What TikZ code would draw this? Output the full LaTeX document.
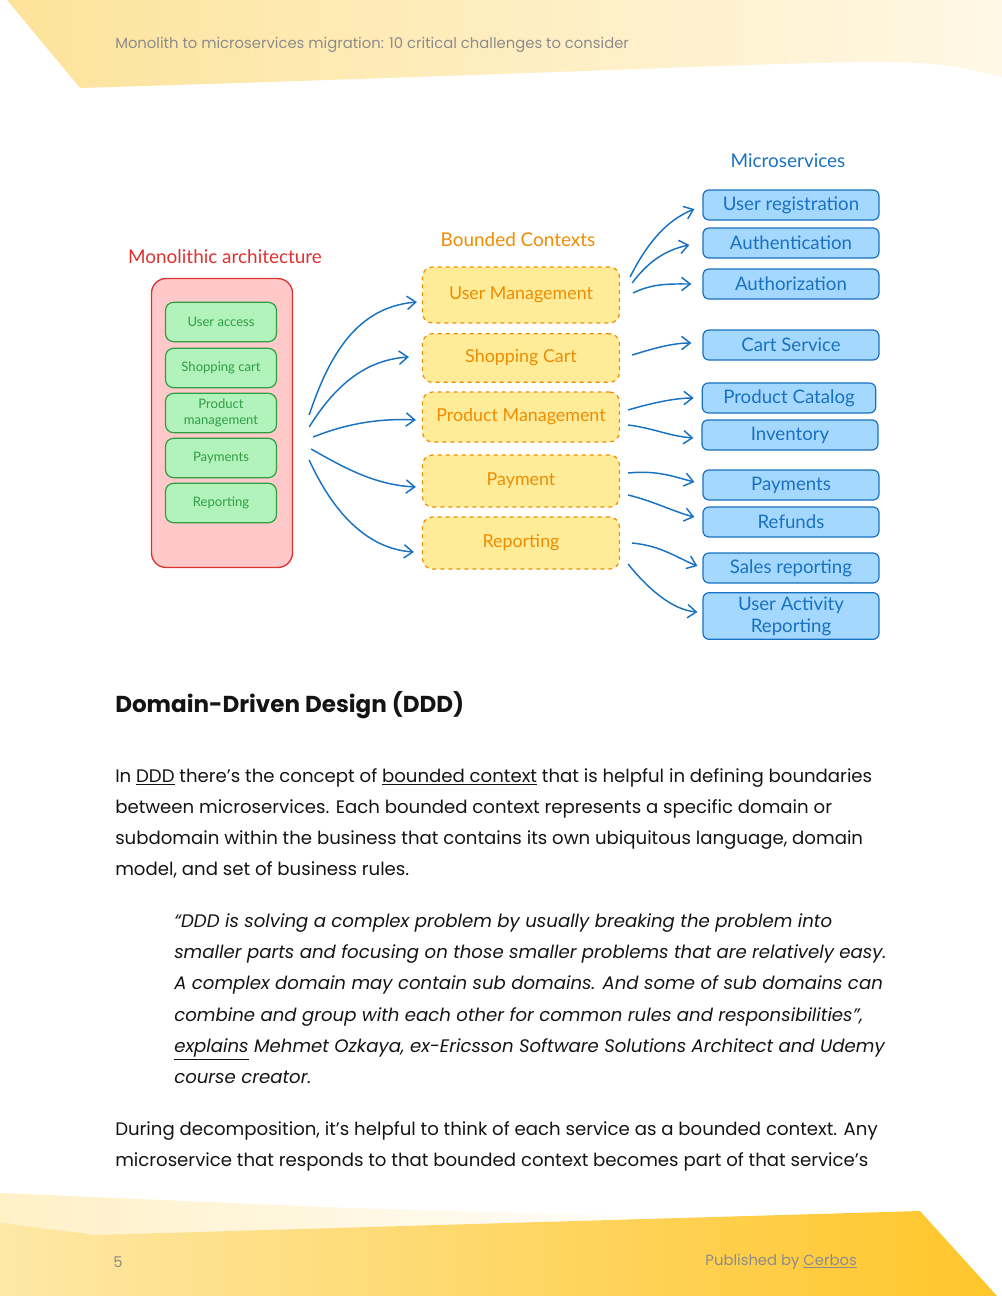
\documentclass[tikz,border=0pt]{standalone}
\usepackage{fontspec}
\setmainfont{Poppins}
\newfontfamily\sketchfont{Lato}
\usetikzlibrary{arrows.meta,positioning}

\definecolor{hdrL}{HTML}{FDE39A}
\definecolor{hdrR}{HTML}{FFF8E6}
\definecolor{ftrPale}{HTML}{FFF0C6}
\definecolor{ftrL}{HTML}{FEE8A6}
\definecolor{ftrR}{HTML}{FFC62A}
\definecolor{pagegrey}{HTML}{8C8C8C}
\definecolor{monoRed}{HTML}{E03131}
\definecolor{monoFill}{HTML}{FFC9C9}
\definecolor{partGreen}{HTML}{2F9E44}
\definecolor{partFill}{HTML}{B2F2BB}
\definecolor{ctxOrange}{HTML}{F08C00}
\definecolor{ctxFill}{HTML}{FFEC99}
\definecolor{svcBlue}{HTML}{1971C2}
\definecolor{svcFill}{HTML}{A5D8FF}
\definecolor{ink}{HTML}{141414}

\begin{document}
\begin{tikzpicture}[x=0.75pt,y=-0.75pt,
  >={Straight Barb[length=6.5pt,width=10pt]},
  pagetext/.style={text=pagegrey,font=\fontsize{11.1}{13}\selectfont,inner sep=0},
  title/.style={font=\sketchfont\fontsize{14.2}{16}\selectfont,inner sep=0},
  mono/.style={draw=monoRed,fill=monoFill,line width=1pt,rounded corners=11pt,
    minimum width=105.75pt,minimum height=216.75pt},
  part/.style={draw=partGreen,fill=partFill,text=partGreen,line width=0.9pt,rounded corners=6pt,
    minimum width=83.25pt,minimum height=29.5pt,inner sep=0,align=center,
    font=\sketchfont\fontsize{9.8}{12}\selectfont},
  ctx/.style={draw=ctxOrange,fill=ctxFill,text=ctxOrange,line width=0.9pt,dashed,rounded corners=7.5pt,
    minimum width=147.75pt,minimum height=39pt,inner sep=0,
    font=\sketchfont\fontsize{13.4}{15}\selectfont},
  svc/.style={draw=svcBlue,fill=svcFill,text=svcBlue,line width=0.9pt,rounded corners=4.5pt,
    minimum width=132pt,minimum height=22.5pt,inner sep=0,align=center,
    font=\sketchfont\fontsize{14}{16.5}\selectfont},
  flow/.style={draw=svcBlue,line width=1.1pt,->},
  bodytext/.style={text=ink,inner sep=0,align=left,font=\fontsize{13.6}{23.25}\selectfont}]

\useasboundingbox (0,0) rectangle (1002,1296);

% page header and footer bands
\shade[left color=hdrL,right color=hdrR] (7,0) -- (1002,0) -- (1002,77)
  .. controls (960,66) and (930,62) .. (880,62)
  .. controls (780,62) and (600,72) .. (80,88) -- cycle;
\shade[left color=ftrPale,right color=white] (0,1193) -- (350,1208) -- (700,1218) -- (700,1296) -- (0,1296) -- cycle;
\shade[left color=ftrL,right color=ftrR] (0,1223) -- (95,1235) -- (920,1211) -- (997,1296) -- (0,1296) -- cycle;

\node[pagetext,anchor=west] (runhead) at (115,45) {Monolith to microservices migration: 10 critical challenges to consider};
\node[pagetext] (pageno) at (118,1262) {5};
\node[pagetext,anchor=east] (publisher) at (857,1262) {Published by \underline{Cerbos}};

% monolith
\node[title,text=monoRed] (monotitle) at (225,257) {Monolithic architecture};
\node[mono] (mono) at (222,423) {};
\node[part] (useraccess) at (221,322) {User access};
\node[part] (cart) at (221,368) {Shopping cart};
\node[part] (product) at (221,413) {Product\\management};
\node[part] (payments) at (221,458) {Payments};
\node[part] (reporting) at (221,503) {Reporting};

% bounded contexts
\node[title,text=ctxOrange] (ctxtitle) at (518,240) {Bounded Contexts};
\node[ctx,minimum height=42pt] (um) at (521,295) {User Management};
\node[ctx,minimum height=36.5pt] (sc) at (521,358) {Shopping Cart};
\node[ctx,minimum height=37.5pt] (pm) at (521,417) {Product Management};
\node[ctx] (pay) at (521,481) {Payment};
\node[ctx] (rep) at (521,543) {Reporting};

% microservices
\node[title,text=svcBlue] (svctitle) at (788,161) {Microservices};
\node[svc] (ureg) at (791,205) {User registration};
\node[svc] (authn) at (791,243) {Authentication};
\node[svc] (authz) at (791,284) {Authorization};
\node[svc] (cartsvc) at (791,345) {Cart Service};
\node[svc,minimum width=130pt] (catalog) at (789,398) {Product Catalog};
\node[svc] (inventory) at (790,435) {Inventory};
\node[svc] (paysvc) at (791,485) {Payments};
\node[svc] (refunds) at (791,522) {Refunds};
\node[svc] (sales) at (791,568) {Sales reporting};
\node[svc,minimum height=35pt] (activity) at (791,616) {User Activity\\Reporting};

% monolith to contexts
\draw[flow] ([shift={(16,-8)}]mono.east) .. controls +(20,-60) and +(-60,5) .. ([shift={(-5,7)}]um.west);
\draw[flow] ([shift={(16,4)}]mono.east) .. controls +(25,-40) and +(-45,3) .. ([shift={(-13,-1)}]sc.west);
\draw[flow] ([shift={(20,14)}]mono.east) .. controls +(30,-12) and +(-40,-2) .. ([shift={(-6,3)}]pm.west);
\draw[flow] ([shift={(18,26)}]mono.east) .. controls +(35,20) and +(-40,-2) .. ([shift={(-6,6)}]pay.west);
\draw[flow] ([shift={(16,37)}]mono.east) .. controls +(25,55) and +(-45,-3) .. ([shift={(-8,9)}]rep.west);

% contexts to services
\draw[flow] ([shift={(10,-18)}]um.east) .. controls +(15,-30) and +(-30,12) .. ([shift={(-8,4)}]ureg.west);
\draw[flow] ([shift={(12,-12)}]um.east) .. controls +(15,-20) and +(-25,5) .. ([shift={(-13,2)}]authn.west);
\draw[flow] ([shift={(13,-2)}]um.east) .. controls +(20,-10) and +(-20,0) .. ([shift={(-11,0)}]authz.west);
\draw[flow] ([shift={(12,-3)}]sc.east) .. controls +(20,-6) and +(-20,0) .. ([shift={(-11,-2)}]cartsvc.west);
\draw[flow] ([shift={(8,-7)}]pm.east) .. controls +(20,-6) and +(-20,0) .. ([shift={(-8,0)}]catalog.west);
\draw[flow] ([shift={(8,8)}]pm.east) .. controls +(25,3) and +(-25,-2) .. ([shift={(-8,3)}]inventory.west);
\draw[flow] ([shift={(8,-8)}]pay.east) .. controls +(30,-3) and +(-20,-5) .. ([shift={(-8,-3)}]paysvc.west);
\draw[flow] ([shift={(8,14)}]pay.east) .. controls +(25,6) and +(-20,-5) .. ([shift={(-8,-5)}]refunds.west);
\draw[flow] ([shift={(12,0)}]rep.east) .. controls +(30,3) and +(-20,-8) .. ([shift={(-5,-2)}]sales.west);
\draw[flow] ([shift={(8,21)}]rep.east) .. controls +(20,25) and +(-25,-2) .. ([shift={(-5,-4)}]activity.west);

% text below the picture
\node[anchor=base west,text=ink,inner sep=0,font=\fontsize{17.3}{21}\selectfont\bfseries] (ddd) at (115,712) {Domain-Driven Design (DDD)};
\node[bodytext,anchor=north west] (intro) at (115,768) {In \underline{DDD} there’s the concept of \underline{bounded context} that is helpful in defining boundaries\\
between microservices. Each bounded context represents a specific domain or\\
subdomain within the business that contains its own ubiquitous language, domain\\
model, and set of business rules.};
\node[bodytext,anchor=north west,font=\fontsize{13.6}{23.5}\selectfont\itshape] (quote) at (174,913) {“DDD is solving a complex problem by usually breaking the problem into\\
smaller parts and focusing on those smaller problems that are relatively easy.\\
A complex domain may contain sub domains. And some of sub domains can\\
combine and group with each other for common rules and responsibilities”,\\
\underline{explains} Mehmet Ozkaya, ex-Ericsson Software Solutions Architect and Udemy\\
course creator.};
\node[bodytext,anchor=north west] (decomp) at (115,1121) {During decomposition, it’s helpful to think of each service as a bounded context. Any\\
microservice that responds to that bounded context becomes part of that service’s};

\end{tikzpicture}
\end{document}
